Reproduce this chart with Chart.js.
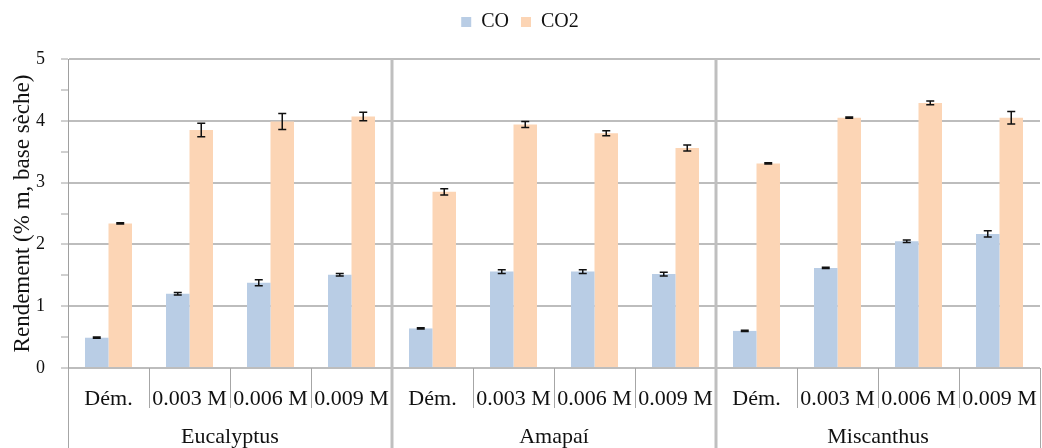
<!DOCTYPE html>
<html>
<head>
<meta charset="utf-8">
<script src="https://cdn.jsdelivr.net/npm/chart.js@4/dist/chart.umd.min.js"></script>
<style>
  html, body { margin: 0; padding: 0; background: #fff; }
  #wrap { width: 1042px; height: 448px; }
</style>
</head>
<body>
<div id="wrap"><canvas id="c" width="1042" height="448"></canvas></div>
<script>
const subLabels = ["Dém.", "0.003 M", "0.006 M", "0.009 M", "Dém.", "0.003 M", "0.006 M", "0.009 M", "Dém.", "0.003 M", "0.006 M", "0.009 M"];
const groups = ["Eucalyptus", "Amapaí", "Miscanthus"];
const coValues = [0.49, 1.20, 1.38, 1.51, 0.64, 1.56, 1.56, 1.52, 0.60, 1.62, 2.05, 2.17];
const co2Values = [2.34, 3.85, 3.99, 4.07, 2.85, 3.94, 3.80, 3.56, 3.31, 4.05, 4.29, 4.05];
const coErrors = [0.01, 0.02, 0.05, 0.02, 0.01, 0.03, 0.03, 0.03, 0.01, 0.01, 0.02, 0.05];
const co2Errors = [0.01, 0.11, 0.13, 0.07, 0.05, 0.05, 0.04, 0.05, 0.01, 0.01, 0.03, 0.10];
const yTicks = [0, 1, 2, 3, 4, 5];

const FONT = "'Liberation Serif', 'Times New Roman', serif";
const GRID = '#BDBDBD';

const errorBars = {
  id: 'errorBars',
  afterDatasetsDraw(chart) {
    const ctx = chart.ctx;
    const y = chart.scales.y;
    const errs = [coErrors, co2Errors];
    ctx.save();
    ctx.strokeStyle = '#111';
    ctx.lineWidth = 1.5;
    chart.data.datasets.forEach((ds, di) => {
      const meta = chart.getDatasetMeta(di);
      meta.data.forEach((bar, i) => {
        const v = ds.data[i], e = errs[di][i];
        const yTop = y.getPixelForValue(v + e);
        const yBot = y.getPixelForValue(v - e);
        const x = bar.x;
        ctx.beginPath();
        ctx.moveTo(x, yTop); ctx.lineTo(x, yBot);
        ctx.moveTo(x - 4, yTop); ctx.lineTo(x + 4, yTop);
        ctx.moveTo(x - 4, yBot); ctx.lineTo(x + 4, yBot);
        ctx.stroke();
      });
    });
    ctx.restore();
  }
};

const categoryAxis = {
  id: 'categoryAxis',
  afterDraw(chart) {
    const ctx = chart.ctx;
    const x = chart.scales.x;
    const area = chart.chartArea;
    const H = chart.height;
    ctx.save();
    ctx.strokeStyle = '#A6A6A6';
    ctx.lineWidth = 1;
    for (let i = 0; i <= subLabels.length; i++) {
      const px = Math.round(x.getPixelForValue(i - 0.5)) + 0.5;
      ctx.beginPath();
      ctx.moveTo(px, area.bottom);
      ctx.lineTo(px, (i % 4 === 0) ? H : area.bottom + 40);
      ctx.stroke();
    }
    ctx.strokeStyle = '#BFBFBF';
    ctx.lineWidth = 3;
    for (let g = 1; g < groups.length; g++) {
      const px = x.getPixelForValue(g * 4 - 0.5);
      ctx.beginPath();
      ctx.moveTo(px, area.top);
      ctx.lineTo(px, H);
      ctx.stroke();
    }
    ctx.fillStyle = '#111';
    ctx.font = '22px ' + FONT;
    ctx.textAlign = 'center';
    ctx.textBaseline = 'middle';
    groups.forEach((g, gi) => {
      const cx = x.getPixelForValue(gi * 4 + 1.5);
      ctx.fillText(g, cx, 437);
    });
    ctx.restore();
  }
};

const legendSpacing = {
  id: 'legendSpacing',
  beforeInit(chart) {
    const orig = chart.legend.fit;
    chart.legend.fit = function () {
      orig.bind(chart.legend)();
      this.height += 17;
    };
  }
};

new Chart(document.getElementById('c'), {
  type: 'bar',
  data: {
    labels: subLabels,
    datasets: [
      { label: 'CO', data: coValues, backgroundColor: '#B9CDE5', categoryPercentage: 0.58, barPercentage: 1.0 },
      { label: 'CO2', data: co2Values, backgroundColor: '#FCD5B5', categoryPercentage: 0.58, barPercentage: 1.0 }
    ]
  },
  options: {
    responsive: false,
    animation: false,
    devicePixelRatio: 1,
    layout: { padding: { top: 0, right: 2, left: 0, bottom: 0 } },
    plugins: {
      legend: {
        position: 'top',
        align: 'center',
        labels: {
          boxWidth: 10, boxHeight: 10, padding: 12,
          color: '#111',
          font: { family: FONT, size: 20 }
        }
      },
      tooltip: { enabled: false }
    },
    scales: {
      x: {
        grid: { display: false, drawTicks: false },
        border: { display: false },
        ticks: {
          color: '#111', padding: 18, maxRotation: 0, autoSkip: false,
          font: { family: FONT, size: 22 }
        },
        afterFit(scale) { scale.height = 80; scale.paddingLeft = 0; scale.paddingRight = 0; }
      },
      y: {
        min: 0, max: 5,
        afterBuildTicks(scale) {
          const t = [];
          yTicks.forEach((v, i) => { t.push({ value: v }); if (i < yTicks.length - 1) t.push({ value: v + 0.5 }); });
          scale.ticks = t;
        },
        grid: {
          color: (c) => (c.tick && Number.isInteger(c.tick.value)) ? GRID : 'rgba(0,0,0,0)',
          tickColor: '#A0A0A0',
          lineWidth: 2,
          tickWidth: 1,
          tickLength: 7
        },
        border: { display: true, color: '#A0A0A0', width: 1 },
        ticks: {
          color: '#111', padding: 16,
          font: { family: FONT, size: 18 },
          callback: (v) => Number.isInteger(v) ? String(v) : ''
        },
        title: {
          display: true,
          text: 'Rendement (% m, base sèche)',
          color: '#111',
          font: { family: FONT, size: 23 },
          padding: { top: 9, bottom: 0 }
        },
        afterFit(scale) { scale.width = 68; }
      }
    }
  },
  plugins: [legendSpacing, errorBars, categoryAxis]
});
</script>
</body>
</html>
